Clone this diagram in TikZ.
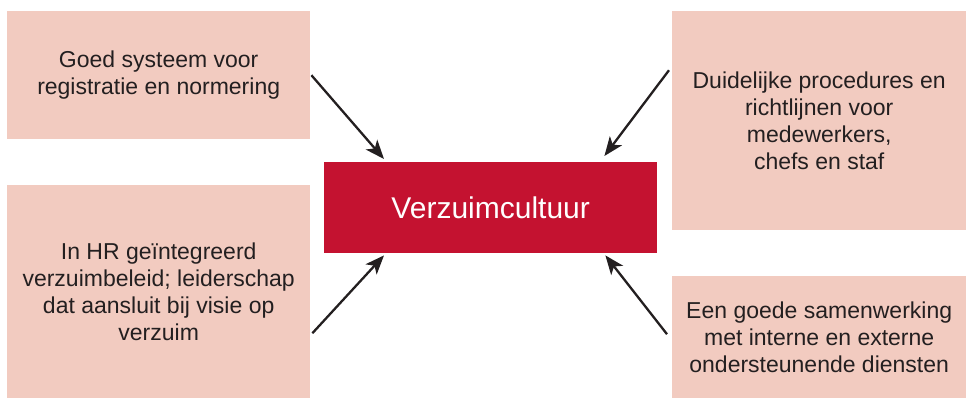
\documentclass[tikz,border=0pt]{standalone}
\usepackage{fontspec}
\setmainfont{Liberation Sans}
\usetikzlibrary{arrows.meta}
\definecolor{boxpink}{HTML}{F2CBC0}
\definecolor{cred}{HTML}{C41230}
\definecolor{txt}{HTML}{231F20}
\begin{document}
\begin{tikzpicture}[x=1pt,y=-1pt,
  pbox/.style={fill=boxpink, text=txt, align=center, inner sep=0pt, anchor=north west,
    font=\fontsize{23}{27}\selectfont},
  redbox/.style={fill=cred, text=white, align=center, inner sep=0pt, anchor=north west,
    font=\fontsize{30}{34}\selectfont},
  arr/.style={line width=2.3pt, draw=txt, -{Stealth[length=19pt,width=15pt,inset=5pt]}}]
\useasboundingbox (0,0) rectangle (969,401);
\node[pbox, minimum width=303pt, minimum height=128pt] (tl) at (7,11)
  {Goed systeem voor\\registratie en normering};
\node[pbox, minimum width=303pt, minimum height=213pt] (bl) at (7,185)
  {In HR geïntegreerd\\verzuimbeleid; leiderschap\\dat aansluit bij visie op\\verzuim};
\node[pbox, minimum width=294pt, minimum height=219pt] (tr) at (672,11)
  {Duidelijke procedures en\\richtlijnen voor\\medewerkers,\\chefs en staf};
\node[pbox, minimum width=294pt, minimum height=122pt] (br) at (672,276)
  {Een goede samenwerking\\met interne en externe\\ondersteunende diensten};
\node[redbox, minimum width=333pt, minimum height=91pt] (red) at (324,162)
  {Verzuimcultuur};
\draw[arr] ([xshift=1pt]tl.east) -- ([xshift=60pt,yshift=3pt]red.north west);
\draw[arr] ([xshift=2pt,yshift=-41.5pt]bl.east) -- ([xshift=60pt,yshift=-2pt]red.south west);
\draw[arr] ([xshift=-3pt,yshift=50.5pt]tr.west) -- ([xshift=-53pt,yshift=6pt]red.north east);
\draw[arr] ([xshift=-5pt,yshift=3pt]br.west) -- ([xshift=-52pt,yshift=-2pt]red.south east);
\end{tikzpicture}
\end{document}
